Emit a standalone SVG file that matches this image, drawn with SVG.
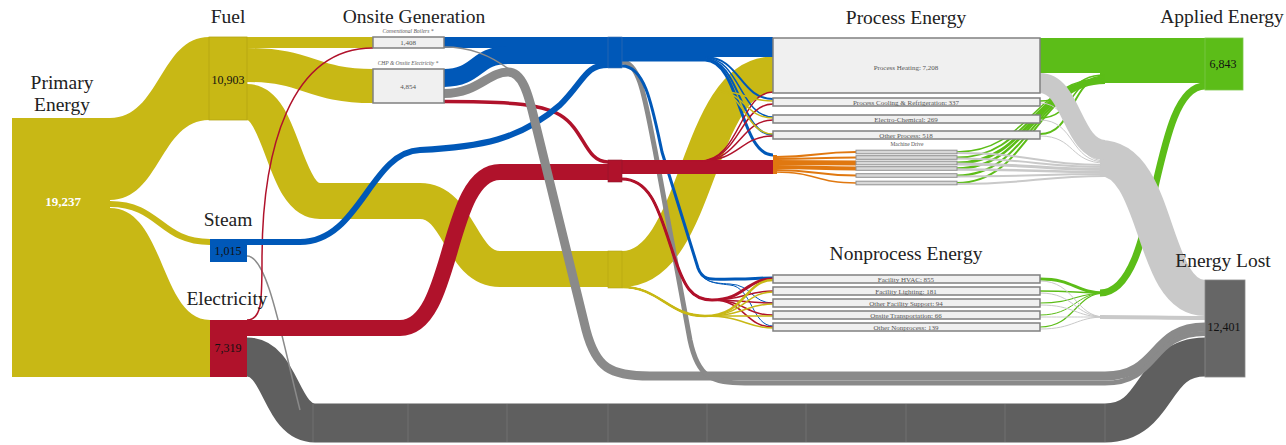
<svg xmlns="http://www.w3.org/2000/svg" width="1286" height="445" viewBox="0 0 1286 445">
<style>
.Y{stroke:#c8b815;fill:none}.B{stroke:#0058b8;fill:none}.R{stroke:#b0122b;fill:none}
.G1{stroke:#8a8a8a;fill:none}.G2{stroke:#5f5f5f;fill:none}.LG{stroke:#c9c9c9;fill:none}
.GR{stroke:#5cbd18;fill:none}.OR{stroke:#e07810;fill:none}
.box{fill:#f0f0f0;stroke:#808080;stroke-width:1.5}
.sub{fill:#d8d8d8;stroke:#909090;stroke-width:1}
.title{font-family:"Liberation Serif",serif;font-size:19.5px;fill:#222;text-anchor:middle}
.num{font-family:"Liberation Serif",serif;font-size:12px;fill:#111;text-anchor:middle}
.small{font-family:"Liberation Serif",serif;font-size:7px;fill:#555;text-anchor:middle}
.tiny{font-family:"Liberation Serif",serif;font-size:5.5px;fill:#555;text-anchor:middle;font-style:italic}
.tick{stroke:#707070;stroke-width:1}
</style>
<rect width="1286" height="445" fill="#ffffff"/>
<g id="connectors">
  <!-- primary outflows -->
  <path fill="#c8b815" d="M110,118 C160,118 160,37 209,37 L209,120 C160,120 160,200 110,200 Z"/>
  <path class="Y" stroke-width="6" d="M110,204 C160,204 160,242 210,242"/>
  <path fill="#c8b815" d="M110,208 C165,208 160,320 210,320 L210,377 L110,377 Z"/>
  <!-- electricity losses (dark gray) -->
  <path class="G2" stroke-width="39" d="M247,357 C282,357 280,423 315,423 L1105,423 C1160,423 1150,357 1205,357"/>
  <g class="tick">
    <line x1="313" y1="404" x2="313" y2="442"/><line x1="408" y1="404" x2="408" y2="442"/>
    <line x1="507" y1="404" x2="507" y2="442"/><line x1="608" y1="404" x2="608" y2="442"/>
    <line x1="707" y1="404" x2="707" y2="442"/><line x1="806" y1="404" x2="806" y2="442"/>
    <line x1="906" y1="404" x2="906" y2="442"/><line x1="1005" y1="404" x2="1005" y2="442"/>
    <line x1="1105" y1="404" x2="1105" y2="442"/>
  </g>
  <path class="G1" stroke-width="1.5" d="M247,256 C268,256 282,340 300,410"/>
  <!-- fuel outflows -->
  <path class="Y" stroke-width="11" d="M247,42.5 L373,42.5"/>
  <path class="Y" stroke-width="34" d="M247,65 C310,65 310,86 373,86"/>
  <path class="Y" stroke-width="36" d="M247,102 C283,102 283,201 320,201 L420,201 C460,201 460,269 500,269 L622,269 C700,269 695,74.5 773,74.5"/>
  <!-- red electricity -->
  <path class="R" stroke-width="16" d="M247,328 L400,328 C455,328 445,172 500,172 L608,172"/>
  <path class="R" stroke-width="1.5" d="M247,320 C262,320 262,300 262,260 C262,150 290,48 373,48"/>
  <path class="R" stroke-width="3.5" d="M444,101.5 C500,101.5 540,103 560,115 C585,130 585,162 608,162"/>
  <!-- steam -->
  <path class="B" stroke-width="6" d="M247,242 L300,242 C360,242 370,152 420,150 C480,147 520,140 560,105 C585,80 585,65 608,65"/>
  <path class="B" stroke-width="11" d="M444,42.5 L608,42.5"/>
  <path class="B" stroke-width="18" d="M444,78 C478,78 475,55 508,55 L608,55"/>
  <!-- onsite losses -->
  <path class="G1" stroke-width="1.5" d="M444,47 C470,47 490,55 510,70"/>
  <path class="G1" stroke-width="9" d="M444,93.5 C478,93.5 488,72 508,72 C522,72 528,92 535,122 L586,330 C596,368 610,376 650,376 L1105,376 C1160,376 1150,327 1205,327"/>
  <path class="G1" stroke-width="5" d="M622,62 C640,62 645,100 655,150 L690,340 C698,378 712,383 745,383 L1105,383 C1160,383 1150,333.5 1205,333.5"/>
  <!-- blue distribution -->
  <path class="B" stroke-width="20" d="M622,47 L773,47"/>
  <path class="B" stroke-width="2" d="M622,57 L705,57 C740,57 740,99 773,99"/>
  <path class="B" stroke-width="1.5" d="M622,58 L705,58 C740,58 740,117 773,117"/>
  <path class="B" stroke-width="2" d="M622,59 L705,59 C740,59 740,135 773,135"/>
  <path class="B" stroke-width="3" d="M622,60 L705,60 C740,60 740,155 773,155"/>
  <path class="B" stroke-width="3" d="M622,66 C645,66 652,105 662,152 L698,268 C703,282 712,279 735,279 C755,279 755,278 773,278"/>
  <path class="B" stroke-width="1" d="M698,268 C703,282 712,283 730,284 C752,285 752,303 773,303"/>
  <path class="B" stroke-width="1" d="M698,268 C703,282 712,283 730,285 C752,287 752,326 773,326"/>
  <!-- red distribution -->
  <path class="R" stroke-width="14" d="M622,167 L773,167"/>
  <path class="R" stroke-width="1.5" d="M622,161 L700,161 C740,161 740,92 773,92"/>
  <path class="R" stroke-width="1.5" d="M622,161 L700,161 C740,161 740,104 773,104"/>
  <path class="R" stroke-width="1.5" d="M622,161 L700,161 C740,161 740,120 773,120"/>
  <path class="R" stroke-width="1.5" d="M622,161 L700,161 C740,161 740,136 773,136"/>
  <path class="R" stroke-width="3" d="M622,179 C652,179 660,215 672,250 C684,288 692,300 712,300 C745,300 745,279 773,279"/>
  <path class="R" stroke-width="1.5" d="M622,179 C652,179 660,215 672,250 C684,288 692,300 712,300 C745,300 745,291 773,291"/>
  <path class="R" stroke-width="1.5" d="M622,179 C652,179 660,215 672,250 C684,288 692,300 712,300 C745,300 745,303 773,303"/>
  <path class="R" stroke-width="1.5" d="M622,179 C652,179 660,215 672,250 C684,288 692,300 712,300 C745,300 745,315 773,315"/>
  <path class="R" stroke-width="1.5" d="M622,179 C652,179 660,215 672,250 C684,288 692,300 712,300 C745,300 745,327 773,327"/>
  <!-- yellow distribution -->
  <path class="Y" stroke-width="1.5" d="M716,91 C745,91 745,101 773,101"/>
  <path class="Y" stroke-width="1.5" d="M716,91 C745,91 745,118 773,118"/>
  <path class="Y" stroke-width="1.5" d="M716,91 C745,91 745,134 773,134"/>
  <path class="Y" stroke-width="2.5" d="M622,287 C660,287 668,316 705,316 C745,316 745,280 773,280"/>
  <path class="Y" stroke-width="1.5" d="M622,287 C660,287 668,316 705,316 C745,316 745,292 773,292"/>
  <path class="Y" stroke-width="1.5" d="M622,287 C660,287 668,316 705,316 C745,316 745,304 773,304"/>
  <path class="Y" stroke-width="1.5" d="M622,287 C660,287 668,316 705,316 C745,316 745,316 773,316"/>
  <path class="Y" stroke-width="1.5" d="M622,287 C660,287 668,316 705,316 C745,316 745,328 773,328"/>
  <!-- machine drive (orange) -->
  <path class="OR" stroke-width="2" d="M776,157 C816,157 816,152 856,152"/>
  <path class="OR" stroke-width="2" d="M776,159 C816,159 816,157.5 856,157.5"/>
  <path class="OR" stroke-width="5" d="M776,162.5 C816,162.5 816,163 856,163"/>
  <path class="OR" stroke-width="4" d="M776,167 C816,167 816,168.5 856,168.5"/>
  <path class="OR" stroke-width="2" d="M776,170 C816,170 816,175.5 856,175.5"/>
  <path class="OR" stroke-width="1.5" d="M776,172 C816,172 816,183 856,183"/>
  <!-- applied (green) -->
  <path class="GR" stroke-width="35" d="M1040,55.5 L1205,55.5"/>
  <path class="GR" stroke-width="10" d="M1100,78 L1205,78"/>
  <path class="GR" stroke-width="1.5" d="M1040,101 C1075,101 1070,75 1105,75"/>
  <path class="GR" stroke-width="1.5" d="M1040,118 C1075,118 1070,76 1105,76"/>
  <path class="GR" stroke-width="2" d="M1040,134 C1075,134 1070,77 1105,77"/>
  <path class="GR" stroke-width="1.5" d="M957,152 C1030,152 1035,78 1105,78"/>
  <path class="GR" stroke-width="2" d="M957,157.5 C1030,157.5 1035,79 1105,79"/>
  <path class="GR" stroke-width="3" d="M957,163 C1030,163 1035,80 1105,80"/>
  <path class="GR" stroke-width="2.5" d="M957,168.5 C1030,168.5 1035,81 1105,81"/>
  <path class="GR" stroke-width="2" d="M957,175.5 C1030,175.5 1035,82 1105,82"/>
  <path class="GR" stroke-width="2" d="M957,183 C1030,183 1035,83 1105,83"/>
  <path class="GR" stroke-width="7" d="M1100,293 C1160,293 1150,86 1205,86"/>
  <path class="GR" stroke-width="3" d="M1040,279 C1075,279 1075,293 1105,293"/>
  <path class="GR" stroke-width="1.5" d="M1040,291 C1075,291 1075,293 1105,293"/>
  <path class="GR" stroke-width="1.2" d="M1040,303 C1075,303 1075,293 1105,293"/>
  <path class="GR" stroke-width="1" d="M1040,315 C1075,315 1075,293 1105,293"/>
  <path class="GR" stroke-width="1.2" d="M1040,327 C1075,327 1075,293 1105,293"/>
  <!-- losses (light gray) -->
  <path class="LG" stroke-width="36" d="M1100,158 C1160,158 1150,298 1205,298"/>
  <path class="LG" stroke-width="20" d="M1040,83 C1072,83 1072,150 1105,150"/>
  <path class="LG" stroke-width="1" d="M1040,103 C1075,103 1070,161 1105,161"/>
  <path class="LG" stroke-width="1" d="M1040,120 C1075,120 1070,162 1105,162"/>
  <path class="LG" stroke-width="1" d="M1040,136 C1075,136 1070,163 1105,163"/>
  <path class="LG" stroke-width="2" d="M957,153 C1030,153 1040,165 1105,165"/>
  <path class="LG" stroke-width="2" d="M957,158.5 C1030,158.5 1040,167 1105,167"/>
  <path class="LG" stroke-width="3" d="M957,164 C1030,164 1040,169.5 1105,169.5"/>
  <path class="LG" stroke-width="2.5" d="M957,169.5 C1030,169.5 1040,172 1105,172"/>
  <path class="LG" stroke-width="2" d="M957,176.5 C1030,176.5 1040,174 1105,174"/>
  <path class="LG" stroke-width="2" d="M957,184 C1030,184 1040,176 1105,176"/>
  <path class="LG" stroke-width="4" d="M1100,317 C1150,317 1160,318 1205,318"/>
  <path class="LG" stroke-width="1" d="M1040,281 C1075,281 1075,317 1105,317"/>
  <path class="LG" stroke-width="1" d="M1040,293 C1075,293 1075,317 1105,317"/>
  <path class="LG" stroke-width="1" d="M1040,305 C1075,305 1075,317 1105,317"/>
  <path class="LG" stroke-width="1" d="M1040,317 C1075,317 1075,317 1105,317"/>
  <path class="LG" stroke-width="1" d="M1040,329 C1075,329 1075,317 1105,317"/>
</g>

<g id="node-primary">
  <rect x="12" y="118" width="98" height="259" fill="#c8b815"/>
  <text class="title" x="62" y="89">Primary</text>
  <text class="title" x="62" y="111">Energy</text>
  <text x="63" y="206" font-family="Liberation Serif, serif" font-size="13" font-weight="bold" fill="#ffffff" text-anchor="middle">19,237</text>
</g>
<g id="node-fuel">
  <rect x="209" y="37" width="38" height="83" fill="#c8b815" stroke="#b5a512" stroke-width="0.8"/>
  <text class="title" x="228" y="23">Fuel</text>
  <text class="num" x="228" y="84">10,903</text>
</g>
<g id="node-steam">
  <rect x="210" y="239" width="37" height="23" fill="#0058b8"/>
  <text class="title" x="228" y="226">Steam</text>
  <text class="num" x="228" y="255">1,015</text>
</g>
<g id="node-electricity">
  <rect x="210" y="320" width="37" height="57" fill="#b0122b"/>
  <text class="title" x="227" y="305">Electricity</text>
  <text class="num" x="228" y="352">7,319</text>
</g>
<g id="node-onsite">
  <text class="title" x="414" y="23">Onsite Generation</text>
  <text class="tiny" x="408" y="33">Conventional Boilers *</text>
  <rect class="box" x="373" y="37" width="71" height="11"/>
  <text class="small" x="408" y="45">1,408</text>
  <text class="tiny" x="408" y="65">CHP &amp; Onsite Electricity *</text>
  <rect class="box" x="373" y="69" width="71" height="34"/>
  <text class="small" x="408" y="89">4,854</text>
</g>
<g id="node-distribution">
  <rect x="608" y="37" width="14" height="31" fill="#0058b8" stroke="#3a6fb0" stroke-width="0.6"/>
  <rect x="608" y="160" width="14" height="22" fill="#b0122b" stroke="#8e1a2c" stroke-width="0.6"/>
  <rect x="608" y="251" width="14" height="37" fill="#c8b815" stroke="#b5a512" stroke-width="0.6"/>
</g>
<g id="node-process">
  <text class="title" x="906" y="24">Process Energy</text>
  <rect class="box" x="773" y="38" width="267" height="55"/>
  <text class="small" x="906" y="70">Process Heating: 7,208</text>
  <rect class="box" x="773" y="98" width="267" height="8"/>
  <text class="small" x="906" y="105">Process Cooling &amp; Refrigeration: 337</text>
  <rect class="box" x="773" y="115" width="267" height="8"/>
  <text class="small" x="906" y="122">Electro-Chemical: 269</text>
  <rect class="box" x="773" y="131" width="267" height="8"/>
  <text class="small" x="906" y="138">Other Process: 518</text>
  <text class="tiny" x="907" y="146" style="font-style:normal">Machine Drive</text>
  <rect x="773" y="155" width="4" height="19" fill="#e07810"/>
  <rect class="sub" x="856" y="150.2" width="101" height="3.6"/>
  <rect class="sub" x="856" y="155.7" width="101" height="3.6"/>
  <rect class="sub" x="856" y="161.2" width="101" height="3.6"/>
  <rect class="sub" x="856" y="166.7" width="101" height="3.6"/>
  <rect class="sub" x="856" y="173.7" width="101" height="3.6"/>
  <rect class="sub" x="856" y="181.2" width="101" height="3.6"/>
</g>
<g id="node-nonprocess">
  <text class="title" x="906" y="260">Nonprocess Energy</text>
  <rect class="box" x="773" y="275" width="267" height="8"/>
  <text class="small" x="906" y="282">Facility HVAC: 855</text>
  <rect class="box" x="773" y="287" width="267" height="8"/>
  <text class="small" x="906" y="294">Facility Lighting: 181</text>
  <rect class="box" x="773" y="299" width="267" height="8"/>
  <text class="small" x="906" y="306">Other Facility Support: 94</text>
  <rect class="box" x="773" y="311" width="267" height="8"/>
  <text class="small" x="906" y="318">Onsite Transportation: 66</text>
  <rect class="box" x="773" y="323" width="267" height="8"/>
  <text class="small" x="906" y="330">Other Nonprocess: 139</text>
</g>
<g id="node-applied">
  <rect x="1205" y="38" width="38" height="52" fill="#5cbd18" stroke="#7cc84a" stroke-width="0.8"/>
  <text class="title" x="1222" y="23">Applied Energy</text>
  <text class="num" x="1223" y="68">6,843</text>
</g>
<g id="node-lost">
  <rect x="1205" y="280" width="40" height="97" fill="#666666" stroke="#888888" stroke-width="0.8"/>
  <text class="title" x="1223" y="267">Energy Lost</text>
  <text class="num" x="1224" y="331">12,401</text>
</g>
</svg>
